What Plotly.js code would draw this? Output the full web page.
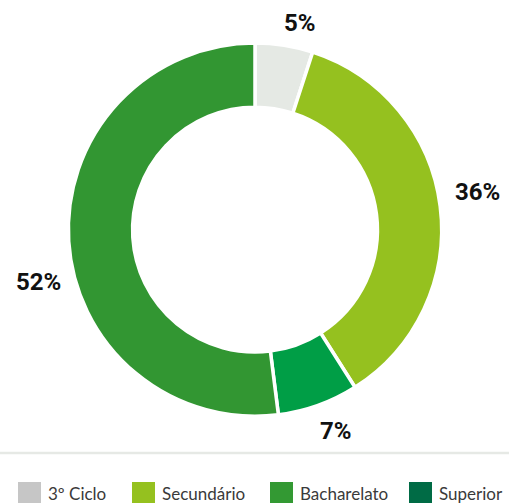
<!DOCTYPE html>
<html>
<head>
<meta charset="utf-8">
<script src="https://cdn.plot.ly/plotly-3.0.1.min.js"></script>
<style>html,body{margin:0;padding:0;background:#fff;}#chart{width:509px;height:503px;}</style>
</head>
<body>
<div id="chart"></div>
<script>
// Slice order (clockwise from 12 o'clock)
var sliceLabels = ["3º Ciclo", "Secundário", "Superior", "Bacharelato"];
var sliceValues = [5, 36, 7, 52];
var sliceColors = ["#e5e9e4", "#95c11f", "#009e46", "#329632"];

// Legend order
var legendLabels = ["3º Ciclo", "Secundário", "Bacharelato", "Superior"];
var legendColors = ["#c6c6c6", "#95c11f", "#339933", "#006b45"];

var W = 509, H = 503;
function px(x){ return x / W; }
function py(y){ return (H - y) / H; }

var trace = {
  type: "pie",
  labels: sliceLabels,
  values: sliceValues,
  sort: false,
  direction: "clockwise",
  rotation: 0,
  hole: 0.656,
  marker: { colors: sliceColors, line: { color: "#ffffff", width: 3.5 } },
  textinfo: "none",
  automargin: false,
  hoverinfo: "none",
  showlegend: false,
  domain: { x: [px(68.3), px(441.7)], y: [py(416.3), py(43)] }
};

var shapes = [{
  type: "line", xref: "paper", yref: "paper",
  x0: 0, x1: 1, y0: py(453), y1: py(453),
  line: { color: "#e6e9e5", width: 2.5 }
}];
var annotations = [];

// percentage labels (placement in pixels, text from data)
var labelPlacement = [[300, 23], [477, 192], [336, 431], [38, 282]];
var total = sliceValues.reduce(function(a, b){ return a + b; }, 0);
sliceValues.forEach(function(v, i){
  annotations.push({
    xref: "paper", yref: "paper",
    x: px(labelPlacement[i][0]), y: py(labelPlacement[i][1]),
    xanchor: "center", yanchor: "middle", showarrow: false,
    text: Math.round(v / total * 100) + "%",
    font: { family: "Roboto, sans-serif", size: 24, color: "#111111", weight: 700 }
  });
});

var legendX = [18, 132, 270, 409];
legendLabels.forEach(function(lab, i){
  var x0 = legendX[i];
  shapes.push({
    type: "rect", xref: "paper", yref: "paper",
    x0: px(x0), x1: px(x0 + 23), y0: py(505), y1: py(482),
    fillcolor: legendColors[i], line: { width: 0 }
  });
  annotations.push({
    xref: "paper", yref: "paper", x: px(x0 + 28), y: py(493),
    xanchor: "left", yanchor: "middle", showarrow: false,
    text: lab, font: { family: "Lato, sans-serif", size: 17, color: "#3a3a3a" }
  });
});

var layout = {
  width: W, height: H,
  margin: { l: 0, r: 0, t: 0, b: 0 },
  paper_bgcolor: "#ffffff",
  showlegend: false,
  shapes: shapes,
  annotations: annotations
};

Plotly.newPlot("chart", [trace], layout, { displayModeBar: false, staticPlot: true });
</script>
</body>
</html>
